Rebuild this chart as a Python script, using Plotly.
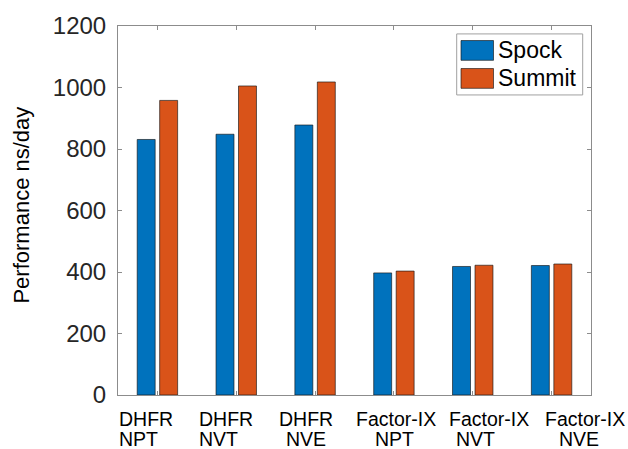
import plotly.graph_objects as go

categories = ["DHFR NPT", "DHFR NVT", "DHFR NVE", "Factor-IX NPT", "Factor-IX NVT", "Factor-IX NVE"]
label_line1 = ["DHFR", "DHFR", "DHFR", "Factor-IX", "Factor-IX", "Factor-IX"]
label_line2 = ["NPT", "NVT", "NVE", "NPT", "NVT", "NVE"]
spock = [831, 848, 878, 397, 418, 421]
summit = [958, 1005, 1018, 403, 422, 426]
y_ticks = [0, 200, 400, 600, 800, 1000, 1200]

# label horizontal offsets (px) relative to tick centre
off1 = [-11, -10, -9, 2, 16, 33]
off2 = [-19, -18, -9, 1, 3, 27]

W, H = 628, 449
L, R, T, B = 118, 37, 22, 54
PW, PH = W - L - R, H - T - B

def px(x):
    return (x - L) / PW

def py(y):
    return (H - B - y) / PH

xs = list(range(len(categories)))
BLUE = "#0072BD"
ORANGE = "#D95319"
TXT = "#262626"
AX = "#8c8c8c"

fig = go.Figure()
fig.add_trace(go.Bar(x=xs, y=spock, name="Spock", marker=dict(color=BLUE, line=dict(color="rgba(20,20,20,0.8)", width=0.8))))
fig.add_trace(go.Bar(x=xs, y=summit, name="Summit", marker=dict(color=ORANGE, line=dict(color="rgba(20,20,20,0.8)", width=0.8))))

fig.update_layout(
    width=W, height=H,
    margin=dict(l=L, r=R, t=T, b=B),
    paper_bgcolor="white", plot_bgcolor="white",
    barmode="group", bargap=0.43, bargroupgap=0.2,
    showlegend=False,
    font=dict(family="Liberation Sans, Arial, Helvetica, sans-serif", color=TXT),
)
fig.update_xaxes(
    range=[-0.5, len(categories) - 0.5], tickvals=xs, ticktext=[""] * len(xs),
    showline=True, linecolor=AX, linewidth=1, mirror="ticks",
    ticks="inside", ticklen=4, tickcolor=AX, showgrid=False, zeroline=False,
)
fig.update_yaxes(
    range=[0, 1200], tickvals=y_ticks, ticktext=[str(v) for v in y_ticks],
    showline=True, linecolor=AX, linewidth=1, mirror="ticks",
    ticks="inside", ticklen=4, tickcolor=AX, showgrid=False, zeroline=False,
    tickfont=dict(size=24, color=TXT), ticklabelstandoff=6,
)

ann = []
for i in xs:
    ann.append(dict(x=i, xref="x", y=0, yref="paper", yanchor="middle", xanchor="center",
                    yshift=-24, xshift=off1[i], text=label_line1[i], showarrow=False, borderpad=0,
                    font=dict(size=19.5, color="black")))
    ann.append(dict(x=i, xref="x", y=0, yref="paper", yanchor="middle", xanchor="center",
                    yshift=-44, xshift=off2[i], text=label_line2[i], showarrow=False, borderpad=0,
                    font=dict(size=19.5, color="black")))

# y-axis title
ann.append(dict(x=px(22), xref="paper", y=py(203.5), yref="paper", text="Performance ns/day",
                textangle=-90, showarrow=False, xanchor="center", yanchor="middle",
                font=dict(size=22, color="black")))

# legend drawn manually (MATLAB style)
shapes = [
    dict(type="rect", xref="paper", yref="paper", x0=px(456.7), x1=px(582.7), y0=py(91.7), y1=py(30),
         line=dict(color="#a0a0a0", width=1), fillcolor="white", layer="above"),
    dict(type="rect", xref="paper", yref="paper", x0=px(461), x1=px(493.5), y0=py(56.7), y1=py(36.7),
         line=dict(color="rgba(20,20,20,0.8)", width=0.8), fillcolor=BLUE, layer="above"),
    dict(type="rect", xref="paper", yref="paper", x0=px(461), x1=px(493.5), y0=py(85), y1=py(65),
         line=dict(color="rgba(20,20,20,0.8)", width=0.8), fillcolor=ORANGE, layer="above"),
]
for name, yc in (("Spock", 46.7), ("Summit", 75)):
    ann.append(dict(x=px(496), xref="paper", y=py(yc), yref="paper", text=name, showarrow=False,
                    xanchor="left", yanchor="middle", font=dict(size=23, color="black")))

fig.update_layout(annotations=ann, shapes=shapes)
fig.write_html("out.html")
